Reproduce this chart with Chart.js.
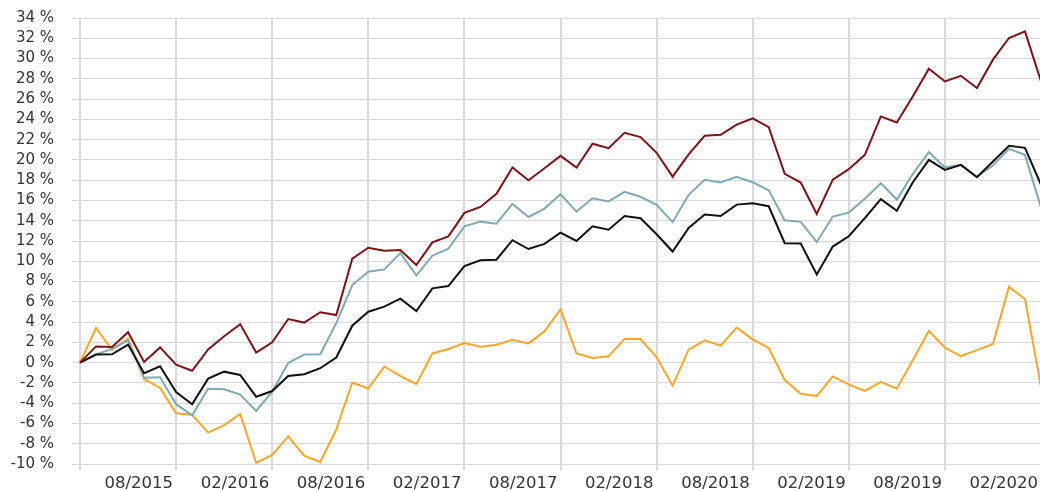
<!DOCTYPE html>
<html>
<head>
<meta charset="utf-8">
<script src="https://cdn.jsdelivr.net/npm/chart.js@4/dist/chart.umd.min.js"></script>
<style>
  html, body { margin: 0; padding: 0; background: #fff; overflow: hidden; }
  #wrap { width: 1045px; height: 491px; }
</style>
</head>
<body>
<div id="wrap"><canvas id="perfChart" width="1045" height="491"></canvas></div>
<script>
// monthly points, 02/2015 .. 02/2020
const months = [];
for (let y = 2015; y <= 2020; y++) {
  for (let m = 1; m <= 12; m++) {
    if ((y === 2015 && m < 2) || (y === 2020 && m > 2)) continue;
    months.push(String(m).padStart(2, '0') + '/' + y);
  }
}

const seriesRed = [0, 1.6, 1.55, 3.0, 0.07, 1.5, -0.2, -0.8, 1.3, 2.6, 3.8, 1.0, 2.0, 4.3, 3.95, 4.97,
  4.69, 10.26, 11.34, 11.05, 11.11, 9.63, 11.87, 12.46, 14.77, 15.36, 16.65, 19.25, 18.0, 19.18, 20.4,
  19.25, 21.6, 21.16, 22.67, 22.25, 20.7, 18.35, 20.55, 22.38, 22.48, 23.48, 24.1, 23.23, 18.63, 17.77,
  14.66, 18.05, 19.09, 20.5, 24.29, 23.7, 26.27, 29.0, 27.74, 28.3, 27.09, 29.89, 32.03, 32.68, 27.75];

const seriesBlack = [0, 0.8, 0.82, 1.78, -1.05, -0.36, -2.9, -4.1, -1.58, -0.89, -1.22, -3.36, -2.8, -1.32, -1.15, -0.55,
  0.51, 3.64, 5.02, 5.52, 6.31, 5.09, 7.33, 7.56, 9.53, 10.09, 10.16, 12.08, 11.21, 11.71, 12.83,
  12.0, 13.45, 13.12, 14.47, 14.25, 12.67, 10.96, 13.29, 14.61, 14.47, 15.59, 15.72, 15.43, 11.78, 11.75,
  8.7, 11.45, 12.47, 14.25, 16.13, 14.98, 17.8, 20.0, 19.02, 19.51, 18.29, 19.84, 21.39, 21.19, 17.55];

const seriesBlue = [0, 0.8, 1.35, 2.2, -1.48, -1.45, -4.1, -5.2, -2.57, -2.63, -3.16, -4.77, -2.86, -0.03, 0.8, 0.82,
  3.9, 7.66, 8.97, 9.2, 10.82, 8.61, 10.55, 11.25, 13.45, 13.91, 13.71, 15.66, 14.37, 15.2, 16.61,
  14.9, 16.22, 15.9, 16.85, 16.36, 15.57, 13.86, 16.55, 18.03, 17.77, 18.33, 17.8, 17.0, 14.05, 13.89,
  11.9, 14.41, 14.8, 16.16, 17.7, 16.09, 18.63, 20.77, 19.25, 19.51, 18.33, 19.45, 21.09, 20.5, 15.3];

const seriesOrange = [0, 3.42, 1.25, 2.37, -1.61, -2.5, -5.0, -5.14, -6.9, -6.16, -5.07, -9.88, -9.1, -7.28, -9.18, -9.8,
  -6.6, -1.96, -2.55, -0.38, -1.3, -2.12, 0.91, 1.34, 1.93, 1.57, 1.76, 2.26, 1.9, 3.08, 5.25,
  0.9, 0.45, 0.62, 2.33, 2.33, 0.52, -2.27, 1.28, 2.2, 1.67, 3.45, 2.3, 1.44, -1.72, -3.07,
  -3.28, -1.36, -2.15, -2.78, -1.89, -2.58, 0.26, 3.12, 1.48, 0.65, 1.24, 1.84, 7.5, 6.28, -2.4];

const yMin = -10, yMax = 34, yStep = 2;
const textColor = '#333333';
const gridColor = '#d9d9d9';

function line(data, color) {
  return { data, borderColor: color, borderWidth: 2, pointRadius: 0, tension: 0, fill: false };
}

const ctx = document.getElementById('perfChart').getContext('2d');
new Chart(ctx, {
  type: 'line',
  data: {
    labels: months,
    datasets: [
      line(seriesRed, '#7a1417'),
      line(seriesBlack, '#111111'),
      line(seriesBlue, '#80a9b8'),
      line(seriesOrange, '#f9a62a')
    ]
  },
  options: {
    responsive: false,
    animation: false,
    layout: { padding: { top: 18, right: 0, bottom: 0, left: 0 } },
    plugins: { legend: { display: false }, tooltip: { enabled: false } },
    scales: {
      x: {
        type: 'category',
        offset: false,
        border: { display: false },
        grid: { color: gridColor, lineWidth: 2, tickLength: 6 },
        ticks: {
          autoSkip: false,
          maxRotation: 0,
          align: 'end',
          labelOffset: -3,
          padding: 4,
          color: textColor,
          font: { family: 'DejaVu Sans', size: 16.5 },
          callback: function (val, i) {
            if (i % 6 !== 0) return null;
            return i === 0 ? '' : months[i];
          }
        },
        afterFit: function (s) { s.height = 27; }
      },
      y: {
        min: yMin,
        max: yMax,
        border: { display: false },
        grid: { color: gridColor, lineWidth: 1, tickLength: 8 },
        ticks: {
          stepSize: yStep,
          autoSkip: false,
          padding: 18,
          color: textColor,
          font: { family: 'DejaVu Sans', size: 15 },
          callback: v => v + ' %'
        },
        afterFit: function (s) { s.width = 80; s.paddingTop = 0; s.paddingBottom = 0; }
      }
    }
  }
});
</script>
</body>
</html>
